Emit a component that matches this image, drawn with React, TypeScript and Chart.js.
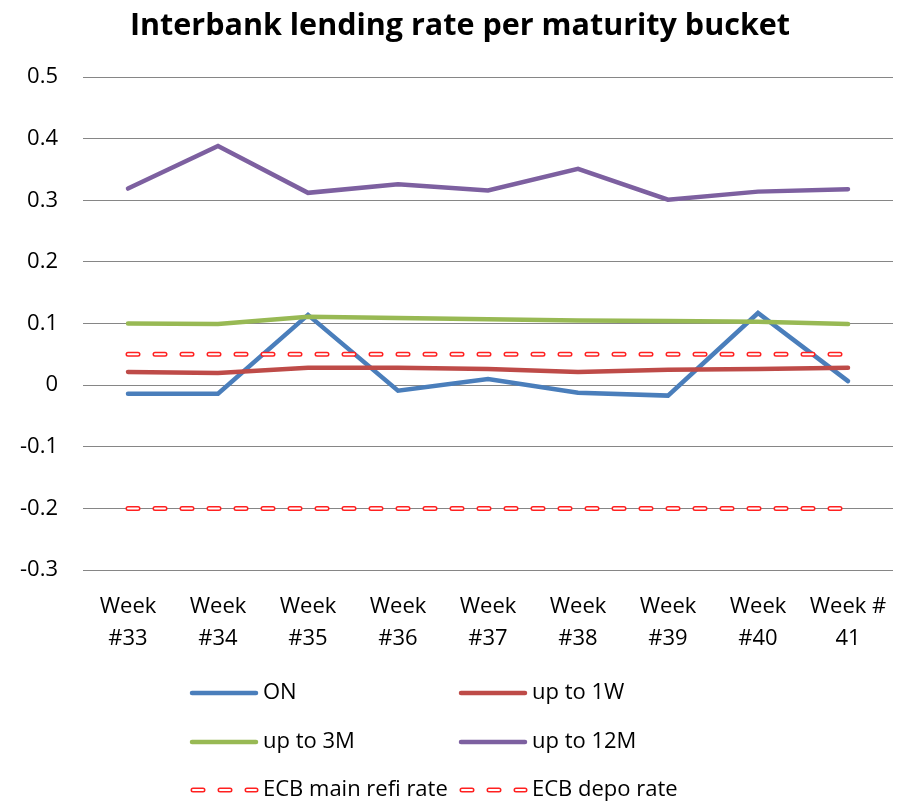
import React, { useEffect, useRef } from "react";
import { Chart, registerables } from "chart.js";

Chart.register(...registerables);

const categories: string[][] = [
  ["Week", "#33"], ["Week", "#34"], ["Week", "#35"], ["Week", "#36"], ["Week", "#37"],
  ["Week", "#38"], ["Week", "#39"], ["Week", "#40"], ["Week #", "41"],
];
const onRate = [-0.014, -0.014, 0.114, -0.009, 0.010, -0.0125, -0.017, 0.117, 0.0065];
const upTo1W = [0.0215, 0.0195, 0.028, 0.028, 0.026, 0.0215, 0.025, 0.026, 0.028];
const upTo3M = [0.100, 0.099, 0.111, 0.109, 0.107, 0.105, 0.104, 0.103, 0.099];
const upTo12M = [0.319, 0.388, 0.312, 0.326, 0.316, 0.351, 0.301, 0.314, 0.318];
const ecbRefi = [0.05, 0.05, 0.05, 0.05, 0.05, 0.05, 0.05, 0.05, 0.05];
const ecbDepo = [-0.2, -0.2, -0.2, -0.2, -0.2, -0.2, -0.2, -0.2, -0.2];
const yMin = -0.3;
const yMax = 0.5;
const yStep = 0.1;
const titleText = "Interbank lending rate per maturity bucket";

const FONT = "'Open Sans'";
const C_ON = "#4A7EBB";
const C_1W = "#BE4B48";
const C_3M = "#98B954";
const C_12M = "#7D60A0";
const C_DASH = "#FF2020";
const DASH = [10, 17];

type LegendItem = { label: string; color: string; dashed: boolean };
const legendItems: LegendItem[] = [
  { label: "ON", color: C_ON, dashed: false },
  { label: "up to 1W", color: C_1W, dashed: false },
  { label: "up to 3M", color: C_3M, dashed: false },
  { label: "up to 12M", color: C_12M, dashed: false },
  { label: "ECB main refi rate", color: C_DASH, dashed: true },
  { label: "ECB depo rate", color: C_DASH, dashed: true },
];

const titlePlugin = {
  id: "customTitle",
  afterDraw(chart: any) {
    const ctx = chart.ctx;
    ctx.save();
    ctx.font = `bold 30.5px ${FONT}`;
    ctx.fillStyle = "#000";
    ctx.textAlign = "center";
    ctx.textBaseline = "alphabetic";
    ctx.fillText(titleText, 460, 35);
    ctx.restore();
  },
};

const legendPlugin = {
  id: "gridLegend",
  afterDraw(chart: any) {
    const ctx = chart.ctx;
    const colX = [190, 459];
    const rowY = [693, 742, 790];
    ctx.save();
    legendItems.forEach((it, i) => {
      const x = colX[i % 2];
      const y = rowY[Math.floor(i / 2)];
      ctx.lineCap = "round";
      if (it.dashed) {
        ctx.setLineDash([10, 17]);
        ctx.strokeStyle = it.color;
        ctx.lineWidth = 5;
        ctx.beginPath();
        ctx.moveTo(x + 3, y);
        ctx.lineTo(x + 66, y);
        ctx.stroke();
        ctx.strokeStyle = "#fff";
        ctx.lineWidth = 2;
        ctx.stroke();
        ctx.setLineDash([]);
      } else {
        ctx.strokeStyle = it.color;
        ctx.lineWidth = 4.5;
        ctx.beginPath();
        ctx.moveTo(x + 2, y);
        ctx.lineTo(x + 66, y);
        ctx.stroke();
      }
      ctx.font = `22px ${FONT}`;
      ctx.fillStyle = "#000";
      ctx.textAlign = "left";
      ctx.textBaseline = "middle";
      ctx.fillText(it.label, x + 73, y);
    });
    ctx.restore();
  },
};

export default function App() {
  const ref = useRef<HTMLCanvasElement | null>(null);
  useEffect(() => {
    document.body.style.margin = "0";
    if (!ref.current) return;
    const solid = (label: string, data: number[], color: string, order: number) => ({
      label,
      data,
      borderColor: color,
      backgroundColor: color,
      borderWidth: 4.5,
      pointRadius: 0,
      tension: 0,
      borderCapStyle: "round" as const,
      order,
    });
    const dashed = (label: string, data: number[], color: string, width: number, order: number) => ({
      label,
      data,
      borderColor: color,
      backgroundColor: color,
      borderWidth: width,
      borderDash: DASH,
      borderCapStyle: "round" as const,
      pointRadius: 0,
      tension: 0,
      order,
    });
    const chart = new Chart(ref.current, {
      type: "line",
      data: {
        labels: categories,
        datasets: [
          solid("ON", onRate, C_ON, 6),
          solid("up to 1W", upTo1W, C_1W, 5),
          solid("up to 3M", upTo3M, C_3M, 4),
          solid("up to 12M", upTo12M, C_12M, 3),
          dashed("ECB main refi rate", ecbRefi, C_DASH, 5, 2),
          dashed("refi inner", ecbRefi, "#ffffff", 2, 1),
          dashed("ECB depo rate", ecbDepo, C_DASH, 5, 2),
          dashed("depo inner", ecbDepo, "#ffffff", 2, 1),
        ],
      },
      options: {
        responsive: false,
        animation: false,
        layout: { padding: { top: 77, bottom: 154, left: 0, right: 7 } },
        plugins: {
          legend: { display: false },
          title: { display: false },
          tooltip: { enabled: false },
        },
        scales: {
          x: {
            type: "category",
            offset: true,
            grid: { display: false },
            border: { display: false },
            ticks: {
              color: "#000",
              font: { family: FONT, size: 22, lineHeight: 1.45 },
              padding: 13,
              maxRotation: 0,
              autoSkip: false,
            },
            afterFit(scale: any) {
              scale.height = 80;
            },
          },
          y: {
            min: yMin,
            max: yMax,
            grid: { color: "#868686", lineWidth: 1, drawTicks: false },
            border: { display: false },
            ticks: {
              stepSize: yStep,
              color: "#000",
              font: { family: FONT, size: 22 },
              padding: 25,
              callback: (v: any) => String(Number(Number(v).toFixed(1))),
            },
            afterFit(scale: any) {
              scale.width = 83;
            },
          },
        },
      },
      plugins: [titlePlugin, legendPlugin],
    });
    return () => chart.destroy();
  }, []);
  return <canvas ref={ref} width={900} height={804} style={{ display: "block" }} />;
}
